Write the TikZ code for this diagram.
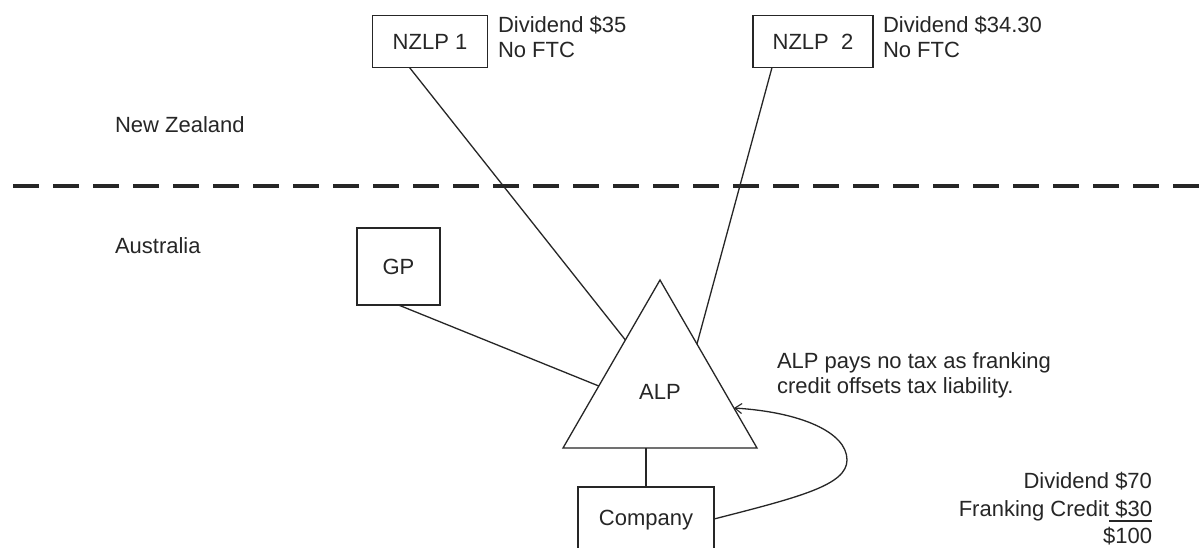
\documentclass[tikz,border=0pt]{standalone}
\usepackage{fontspec}
\setmainfont{Liberation Sans}
\usetikzlibrary{calc,arrows.meta,shapes.geometric}
\newcommand\myul[1]{\setbox0\hbox{#1}\rlap{\rule[-5.5pt]{\wd0}{1.5pt}}\box0}
\begin{document}
\begin{tikzpicture}[x=1pt,y=-1pt,
  every node/.style={font=\fontsize{22}{25}\selectfont, inner sep=0pt, outer sep=0pt, text=black!85},
  box/.style={draw=black!85, line width=1.7pt},
  conn/.style={draw=black!85, line width=1.3pt},
  lbl/.style={anchor=base west},
  rlbl/.style={anchor=base east},
  divider/.style={draw=black!85, line width=3.5pt, dash pattern=on 26pt off 14pt},
  barb/.style={-{Straight Barb[length=7pt,width=10pt,line width=1.1pt]}}]
\useasboundingbox (0,0) rectangle (1200,547);
\clip (0,0) rectangle (1200,547);
\fill[white] (0,0) rectangle (1200,547);

% boxes
\node[box, minimum width=115pt, minimum height=52pt] (nzlp1) at (430,41.5) {NZLP 1};
\node[box, minimum width=120pt, minimum height=52pt] (nzlp2) at (813,41.5) {NZLP\ \ 2};
\node[box, minimum width=83pt, minimum height=77pt] (gp) at (398.5,266.5) {GP};
\node[draw=black!85, line width=1.3pt, regular polygon, regular polygon sides=3, minimum size=224pt] (alp) at (660,392) {ALP};
\node[box, minimum width=136pt, minimum height=90pt, anchor=north] (company) at (646,487) {};
\node[anchor=base] (companytext) at (646,525) {Company};

% labels
\node[lbl] (div1) at (498,32) {Dividend \$35};
\node[lbl] (ftc1) at (498,57) {No FTC};
\node[lbl] (div2) at (883,32) {Dividend \$34.30};
\node[lbl] (ftc2) at (883,57) {No FTC};
\node[lbl] (nz) at (115,132) {New Zealand};
\node[lbl] (au) at (115,253) {Australia};
\node[lbl] (note1) at (777,368) {ALP pays no tax as franking};
\node[lbl] (note2) at (777,393) {credit offsets tax liability.};
\node[rlbl] (r1) at (1152,488) {Dividend \$70};
\node[rlbl] (r2) at (1152,516) {Franking Credit\myul{\ \$30}};
\node[rlbl] (r3) at (1152,543) {\$100};

% divider
\coordinate (dl) at (13,186);
\coordinate (dr) at (1210,186);
\draw[divider] (dl) -- (dr);

% connector points
\coordinate (n1out) at ($(nzlp1.south west)+(37,0)$);
\coordinate (n2out) at ($(nzlp2.south west)+(19,0)$);
\coordinate (leftA) at ($(alp.corner 1)!0.357!(alp.corner 2)$);
\coordinate (leftB) at ($(alp.corner 1)!0.631!(alp.corner 2)$);
\coordinate (rightA) at ($(alp.corner 1)!0.381!(alp.corner 3)$);
\coordinate (rightB) at ($(alp.corner 1)!0.762!(alp.corner 3)$);
\coordinate (cstart) at ($(company.north east)+(0,32)$);
\coordinate (bulge) at (847,460);

\draw[conn] (n1out) -- (leftA);
\draw[conn] (n2out) -- (rightA);
\draw[conn] (gp.south) -- (leftB);
\draw[conn] (company.north) -- (company.north |- alp.corner 2);
\draw[conn, barb] (cstart) .. controls (800,497) and (847,485) .. (bulge)
  .. controls (847,432) and (800,412) .. (rightB);
\end{tikzpicture}
\end{document}
